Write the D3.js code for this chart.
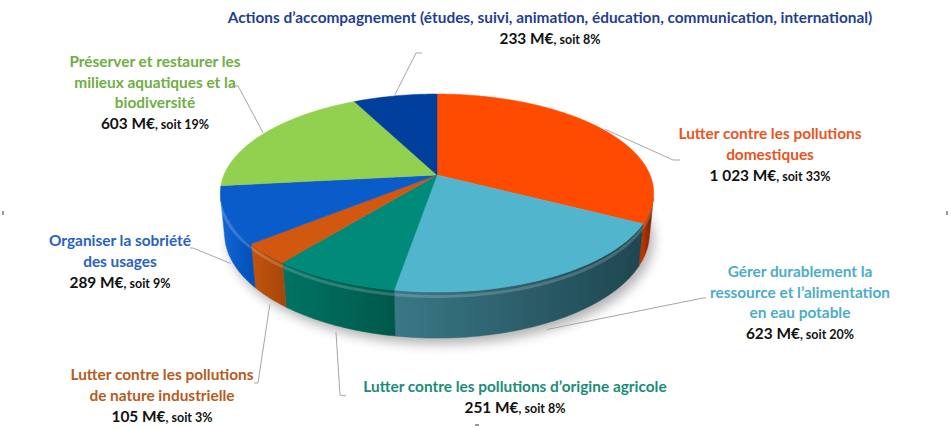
<!DOCTYPE html>
<html>
<head>
<meta charset="utf-8">
<script src="https://cdn.jsdelivr.net/npm/d3@7"></script>
<style>
  body { margin: 0; background: #fff; }
  svg { display: block; font-family: Lato, "Open Sans", sans-serif; font-weight: bold; }
</style>
</head>
<body>
<script>
// data (M€), clockwise from the back of the pie
var categories = [
  "Lutter contre les pollutions domestiques",
  "Gérer durablement la ressource et l’alimentation en eau potable",
  "Lutter contre les pollutions d’origine agricole",
  "Lutter contre les pollutions de nature industrielle",
  "Organiser la sobriété des usages",
  "Préserver et restaurer les milieux aquatiques et la biodiversité",
  "Actions d’accompagnement (études, suivi, animation, éducation, communication, international)"
];
var labelLines = [
  ["Lutter contre les pollutions", "domestiques"],
  ["Gérer durablement la", "ressource et l’alimentation", "en eau potable"],
  ["Lutter contre les pollutions d’origine agricole"],
  ["Lutter contre les pollutions", "de nature industrielle"],
  ["Organiser la sobriété", "des usages"],
  ["Préserver et restaurer les", "milieux aquatiques et la", "biodiversité"],
  ["Actions d’accompagnement (études, suivi, animation, éducation, communication, international)"]
];
var values = [1023, 623, 251, 105, 289, 603, 233];
var valueLabels = ["1 023 M€", "623 M€", "251 M€", "105 M€", "289 M€", "603 M€", "233 M€"];
var percentLabels = ["33%", "20%", "8%", "3%", "9%", "19%", "8%"];

// styles
var topColors  = ["#FF4B00", "#52B5CE", "#008A79", "#D2570F", "#0A5CCA", "#92D050", "#003F9C"];
var wallColors = [["#B83500", "#6A1C00"], ["#3A7886", "#1E4650"], ["#007464", "#00584B"],
                  ["#C4530E", "#A8470B"], ["#1668D8", "#0050B8"], ["#6FA83C", "#5A8F2E"], ["#00307A", "#002260"]];
var textColors = ["#EA541C", "#4DADC8", "#1A8C78", "#B65B20", "#2862C4", "#6FAE43", "#1F3F91"];

// label layout: centre x, first baseline, leader elbow + end
var layout = [
  { x: 770, y: 139, lead: [[673, 160], [680, 160]] },
  { x: 800, y: 277, lead: [[703, 298], [706, 298]] },
  { x: 515, y: 392, lead: [[340, 395], [346, 396]] },
  { x: 162, y: 380, lead: [[258, 383], [254, 383]] },
  { x: 120, y: 246, lead: [[193, 248], [190, 248]] },
  { x: 155, y: 67,  lead: [[238, 86], [232, 86]] },
  { x: 550, y: 23,  lead: [[416, 53], [422, 53]] }
];

var width = 951, height = 429;
var cx = 437, cy = 175;       // screen position of pie centre
var f = 1044, D = 4.9;        // focal length, camera distance (radius = 1)
var tilt = 26.7 * Math.PI / 180;
var sa = Math.sin(tilt), ca = Math.cos(tilt);
var H = 0.2145;               // thickness

function proj(theta, Y, r) {
  var X = r * Math.sin(theta), Z = -r * Math.cos(theta);
  var d = D - Y * sa - Z * ca;
  var yc = Y * ca - Z * sa;
  return [cx + f * X / d, cy - f * yc / d];
}

// visible part of the side wall
var vis = Math.acos(-1 / (D * ca));
var vis0 = vis, vis1 = 2 * Math.PI - vis;

var svg = d3.select("body").append("svg")
  .attr("width", width).attr("height", height);
var defs = svg.append("defs");

defs.append("filter").attr("id", "blur")
  .attr("x", "-20%").attr("y", "-20%").attr("width", "140%").attr("height", "140%")
  .append("feGaussianBlur").attr("stdDeviation", 6);

var arcs = d3.pie().sort(null).value(d => d)
  .startAngle(0).endAngle(2 * Math.PI)(values);

var line = d3.line();
function samples(a0, a1) {
  var n = Math.max(2, Math.ceil((a1 - a0) / 0.01));
  return d3.range(n + 1).map(i => a0 + (a1 - a0) * i / n);
}

// shadow under the pie
var shadowPts = samples(vis0 - 0.4, vis1 + 0.4).map(t => proj(t, -H, 1.0))
  .map(p => [p[0] + 4, p[1] + 6]);
svg.append("path")
  .attr("d", line(shadowPts.concat([[cx, cy + 120]])) + "Z")
  .attr("fill", "#000").attr("opacity", 0.3)
  .attr("filter", "url(#blur)");

// side walls
arcs.forEach(function(a, i) {
  var t0 = Math.max(a.startAngle, vis0), t1 = Math.min(a.endAngle, vis1);
  if (t1 <= t0) return;
  var ts = samples(t0, t1);
  var topPts = ts.map(t => proj(t, 0, 1));
  var botPts = ts.map(t => proj(t, -H, 1)).reverse();
  var xs = topPts.map(p => p[0]);
  var g = defs.append("linearGradient").attr("id", "wall" + i)
    .attr("gradientUnits", "userSpaceOnUse")
    .attr("x1", d3.min(xs)).attr("x2", d3.max(xs)).attr("y1", 0).attr("y2", 0);
  g.append("stop").attr("offset", 0).attr("stop-color", wallColors[i][0]);
  g.append("stop").attr("offset", 1).attr("stop-color", wallColors[i][1]);
  svg.append("path")
    .attr("d", line(topPts.concat(botPts)) + "Z")
    .attr("fill", "url(#wall" + i + ")")
    .attr("stroke", "url(#wall" + i + ")").attr("stroke-width", 0.5);
  // soft bevel light along the rim
  svg.append("path")
    .attr("d", line(ts.map(t => proj(t, -0.02, 1))))
    .attr("fill", "none").attr("stroke", "#fff")
    .attr("stroke-opacity", 0.18).attr("stroke-width", 3);
});

// top faces
arcs.forEach(function(a, i) {
  var pts = [proj(0, 0, 0)].concat(samples(a.startAngle, a.endAngle).map(t => proj(t, 0, 1)));
  svg.append("path")
    .attr("d", line(pts) + "Z")
    .attr("fill", topColors[i])
    .attr("stroke", topColors[i]).attr("stroke-width", 0.5);
});

// leader lines
arcs.forEach(function(a, i) {
  var mid = (a.startAngle + a.endAngle) / 2;
  var start = (mid > vis0 && mid < vis1) ? proj(mid, -H * 1.15, 1.0) : proj(mid, 0, 1.01);
  svg.append("path")
    .attr("d", line([start].concat(layout[i].lead)))
    .attr("fill", "none").attr("stroke", "#a6a6a6").attr("stroke-width", 1);
});

// labels
arcs.forEach(function(a, i) {
  var L = layout[i];
  var g = svg.append("g").attr("text-anchor", "middle");
  labelLines[i].forEach(function(s, k) {
    g.append("text").attr("x", L.x).attr("y", L.y + k * 20.5)
      .attr("fill", textColors[i]).style("font-size", "15.4px").text(s);
  });
  var t = g.append("text").attr("x", L.x)
    .attr("y", L.y + labelLines[i].length * 20.5 + 0.5)
    .attr("fill", "#111");
  t.append("tspan").style("font-size", "15.4px").text(valueLabels[i]);
  t.append("tspan").style("font-size", "12.5px").text(", soit " + percentLabels[i]);
});

// small handles at the picture edges
[[2, 211], [946, 211], [475, 424]].forEach(function(p) {
  svg.append("rect").attr("x", p[0]).attr("y", p[1])
    .attr("width", p[1] > 420 ? 4 : 2).attr("height", p[1] > 420 ? 2 : 4)
    .attr("fill", "#999");
});
</script>
</body>
</html>
